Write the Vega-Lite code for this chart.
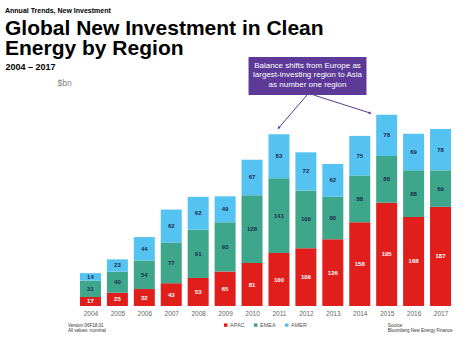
{
  "$schema": "https://vega.github.io/schema/vega-lite/v6.json",
  "width": 387,
  "height": 212,
  "autosize": {"type": "none"},
  "padding": {"left": 72, "top": 94, "right": 15, "bottom": 38},
  "background": "white",
  "title": {
    "text": "Annual Trends, New Investment",
    "subtitle": ["Global New Investment in Clean", "Energy by Region"],
    "anchor": "start",
    "frame": "group",
    "dx": -67,
    "offset": -2,
    "font": "Liberation Sans",
    "fontSize": 7,
    "fontWeight": "bold",
    "color": "#000000",
    "subtitleFont": "Liberation Sans",
    "subtitleFontSize": 21,
    "subtitleFontWeight": "bold",
    "subtitleColor": "#000000",
    "subtitleLineHeight": 19.5,
    "subtitlePadding": 4
  },
  "datasets": {
    "invest": [
      {"year": 2004, "region": "APAC", "value": 17}, {"year": 2004, "region": "EMEA", "value": 31}, {"year": 2004, "region": "AMER", "value": 14},
      {"year": 2005, "region": "APAC", "value": 25}, {"year": 2005, "region": "EMEA", "value": 40}, {"year": 2005, "region": "AMER", "value": 23},
      {"year": 2006, "region": "APAC", "value": 32}, {"year": 2006, "region": "EMEA", "value": 54}, {"year": 2006, "region": "AMER", "value": 44},
      {"year": 2007, "region": "APAC", "value": 43}, {"year": 2007, "region": "EMEA", "value": 77}, {"year": 2007, "region": "AMER", "value": 62},
      {"year": 2008, "region": "APAC", "value": 53}, {"year": 2008, "region": "EMEA", "value": 91}, {"year": 2008, "region": "AMER", "value": 62},
      {"year": 2009, "region": "APAC", "value": 65}, {"year": 2009, "region": "EMEA", "value": 93}, {"year": 2009, "region": "AMER", "value": 49},
      {"year": 2010, "region": "APAC", "value": 81}, {"year": 2010, "region": "EMEA", "value": 128}, {"year": 2010, "region": "AMER", "value": 67},
      {"year": 2011, "region": "APAC", "value": 100}, {"year": 2011, "region": "EMEA", "value": 141}, {"year": 2011, "region": "AMER", "value": 83},
      {"year": 2012, "region": "APAC", "value": 109}, {"year": 2012, "region": "EMEA", "value": 109}, {"year": 2012, "region": "AMER", "value": 72},
      {"year": 2013, "region": "APAC", "value": 126}, {"year": 2013, "region": "EMEA", "value": 80}, {"year": 2013, "region": "AMER", "value": 62},
      {"year": 2014, "region": "APAC", "value": 158}, {"year": 2014, "region": "EMEA", "value": 88}, {"year": 2014, "region": "AMER", "value": 75},
      {"year": 2015, "region": "APAC", "value": 195}, {"year": 2015, "region": "EMEA", "value": 88}, {"year": 2015, "region": "AMER", "value": 78},
      {"year": 2016, "region": "APAC", "value": 168}, {"year": 2016, "region": "EMEA", "value": 88}, {"year": 2016, "region": "AMER", "value": 69},
      {"year": 2017, "region": "APAC", "value": 187}, {"year": 2017, "region": "EMEA", "value": 69}, {"year": 2017, "region": "AMER", "value": 78}
    ]
  },
  "layer": [
    {
      "data": {"name": "invest"},
      "mark": {"type": "bar", "width": 21},
      "encoding": {
        "x": {
          "field": "year",
          "type": "quantitative",
          "scale": {"domain": [2003.5, 2017.5], "nice": false, "zero": false},
          "axis": {"title": "2004 – 2017"}
        },
        "y": {
          "field": "value",
          "type": "quantitative",
          "stack": "zero",
          "scale": {"domain": [0, 400], "nice": false},
          "axis": {"title": "$bn"}
        },
        "color": {
          "field": "region",
          "type": "nominal",
          "sort": ["APAC", "EMEA", "AMER"],
          "scale": {"domain": ["APAC", "EMEA", "AMER"], "range": ["#e01f1c", "#3ea68b", "#55c3f2"]},
          "legend": {
            "title": null,
            "orient": "none",
            "direction": "horizontal",
            "legendX": 151,
            "legendY": 228,
            "symbolType": "square",
            "symbolSize": 12,
            "symbolStrokeWidth": 0,
            "labelFont": "Liberation Sans",
            "labelFontSize": 5.5,
            "labelColor": "#555555",
            "labelOffset": 1.5,
            "columnPadding": 8
          }
        },
        "order": {"field": "color_region_sort_index", "type": "quantitative", "sort": "ascending"}
      }
    },
    {
      "data": {"name": "invest"},
      "mark": {"type": "text", "font": "Liberation Sans", "fontSize": 6, "fontWeight": "bold", "baseline": "middle", "align": "center"},
      "encoding": {
        "x": {"field": "year", "type": "quantitative", "title": "2004 – 2017"},
        "y": {"field": "value", "type": "quantitative", "stack": "zero", "bandPosition": 0.5, "title": "$bn"},
        "opacity": {"field": "region", "type": "nominal", "sort": ["APAC", "EMEA", "AMER"], "scale": {"domain": ["APAC", "EMEA", "AMER"], "range": [1, 1, 1]}, "legend": null},
        "order": {"field": "opacity_region_sort_index", "type": "quantitative", "sort": "ascending"},
        "text": {"field": "value", "type": "quantitative"},
        "fill": {"condition": {"test": "datum.region === 'APAC'", "value": "#ffffff"}, "value": "#1d2b4f"}
      }
    },
    {
      "data": {"values": [{}]},
      "mark": {"type": "rect", "color": "#5d3a98"},
      "encoding": {"x": {"datum": 2009.87}, "x2": {"datum": 2014.25}, "y": {"datum": 470}, "y2": {"datum": 398}}
    },
    {
      "data": {"values": [{}]},
      "mark": {"type": "text", "font": "Liberation Sans", "fontSize": 8, "lineHeight": 9.3, "lineBreak": "\n", "align": "center", "baseline": "middle", "color": "#ffffff"},
      "encoding": {"x": {"datum": 2012.06}, "y": {"datum": 453}, "text": {"value": "Balance shifts from Europe as\nlargest-investing region to Asia\nas number one region"}}
    },
    {
      "data": {"values": [{}]},
      "mark": {"type": "rule", "color": "#5d3a98", "strokeWidth": 1},
      "encoding": {"x": {"datum": 2012.04}, "y": {"datum": 398}, "x2": {"datum": 2010.99}, "y2": {"datum": 336}}
    },
    {
      "data": {"values": [{}]},
      "mark": {"type": "rule", "color": "#5d3a98", "strokeWidth": 1},
      "encoding": {"x": {"datum": 2012.29}, "y": {"datum": 398}, "x2": {"datum": 2014.39}, "y2": {"datum": 364}}
    },
    {
      "data": {"values": [{}]},
      "mark": {"type": "point", "shape": "triangle-up", "filled": true, "size": 10, "angle": 221, "color": "#5d3a98", "opacity": 1},
      "encoding": {"x": {"datum": 2010.99}, "y": {"datum": 336}}
    },
    {
      "data": {"values": [{}]},
      "mark": {"type": "point", "shape": "triangle-up", "filled": true, "size": 10, "angle": 107, "color": "#5d3a98", "opacity": 1},
      "encoding": {"x": {"datum": 2014.39}, "y": {"datum": 364}}
    },
    {
      "data": {"values": [{}]},
      "mark": {"type": "text", "font": "Liberation Sans", "fontSize": 4.5, "lineHeight": 5.5, "lineBreak": "\n", "align": "left", "baseline": "alphabetic", "color": "#333333"},
      "encoding": {"x": {"datum": 2003.17}, "y": {"datum": -39}, "text": {"value": "Version 06F18.01\nAll values: nominal"}}
    },
    {
      "data": {"values": [{}]},
      "mark": {"type": "text", "font": "Liberation Sans", "fontSize": 4.5, "lineHeight": 5.5, "lineBreak": "\n", "align": "left", "baseline": "alphabetic", "color": "#333333"},
      "encoding": {"x": {"datum": 2015.04}, "y": {"datum": -39}, "text": {"value": "Source:\nBloomberg New Energy Finance"}}
    }
  ],
  "config": {
    "view": {"stroke": null},
    "font": "Liberation Sans",
    "axisX": {
      "tickCount": 14,
      "format": "d",
      "domain": false,
      "ticks": false,
      "grid": false,
      "labelFont": "Liberation Sans",
      "labelFontSize": 6.5,
      "labelColor": "#666666",
      "labelPadding": 4,
      "labelFlush": false,
      "labelOverlap": false,
      "titleFont": "Liberation Sans",
      "titleFontSize": 9,
      "titleFontWeight": "bold",
      "titleColor": "#000000",
      "titleAlign": "left",
      "titleAnchor": null,
      "titleBaseline": "alphabetic",
      "titleX": -67,
      "titleY": -237
    },
    "axisY": {
      "domain": false,
      "ticks": false,
      "labels": false,
      "grid": false,
      "titleAngle": 0,
      "titleFont": "Liberation Sans",
      "titleFontSize": 8.5,
      "titleFontWeight": "normal",
      "titleColor": "#808080",
      "titleAlign": "left",
      "titleBaseline": "alphabetic",
      "titleAnchor": null,
      "titleX": -15,
      "titleY": -9
    }
  }
}
